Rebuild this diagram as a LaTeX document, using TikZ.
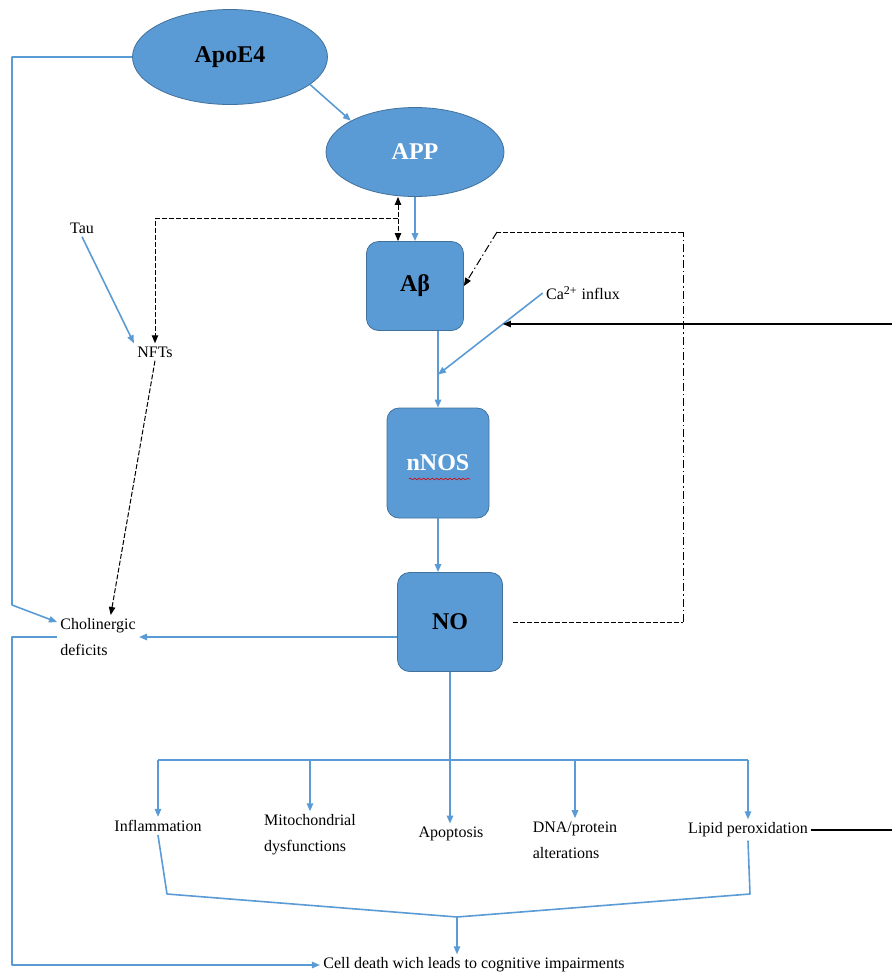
\documentclass[tikz,border=0pt]{standalone}
\usepackage{fontspec}
\setmainfont{Liberation Serif}
\usetikzlibrary{shapes.geometric,arrows.meta,decorations.pathmorphing}
\definecolor{boxblue}{RGB}{91,155,213}
\definecolor{boxline}{RGB}{65,113,156}
\begin{document}
\begin{tikzpicture}[x=0.5pt, y=-0.5pt, font=\fontsize{8}{13}\selectfont, line join=round, >={Triangle[length=4pt,width=3.2pt]},
	oval/.style={ellipse, fill=boxblue, draw=boxline, line width=.4pt, font=\fontsize{12}{14}\selectfont\bfseries},
	rbox/.style={rectangle, rounded corners=6pt, fill=boxblue, draw=boxline, line width=.4pt, font=\fontsize{12}{14}\selectfont\bfseries},
	lbl/.style={inner sep=1.5pt, align=left},
	blu/.style={draw=boxblue, line width=.8pt},
	dsh/.style={black, dash pattern=on 2.5pt off 1pt, line width=.5pt},
	dshdot/.style={black, dash pattern=on 4pt off 1.5pt on .7pt off 1.5pt, line width=.5pt}]
			%			\draw[gray,step=50] (0,0) grid (892,976);
			\useasboundingbox (0,0) rectangle (892,976);
			\path
			(892,0) coordinate (E)
			(683,232) coordinate (F1)
			(497,232) coordinate (F2)
			(12,605) coordinate (L1)
			(167,894) coordinate (b1)
			(457,917) coordinate (b2)
			(750,894) coordinate (b3)
			;
			\node[oval, minimum width=97.5pt, minimum height=47.5pt] (ApoE4) at (230,57) {ApoE4};
			\node[oval, minimum width=89pt, minimum height=44.5pt, text=white] (APP) at (415,152) {APP};
			\node[rbox, minimum width=48.5pt, minimum height=44.5pt] (Ab) at (415,286) {Aβ};
			\node[rbox, minimum width=51pt, minimum height=55pt, text=white] (nNOS) at (438,463) {nNOS};
			\node[rbox, minimum width=52.5pt, minimum height=49.5pt] (NO) at (450,622) {NO};
			
			\node[lbl] (Tau) at (82,228) {Tau};
			\node[lbl] (NFT) at (155,352) {NFTs};
			\node[lbl] (Chol) at (98,637) {Cholinergic\\deficits};
			\node[lbl] (Ca) at (583,293) {Ca\textsuperscript{2+} influx};
			\node[lbl] (Inf) at (158,826) {Inflammation};
			\node[lbl] (Mito) at (310,835) {Mitochondrial\\dysfunctions};
			\node[lbl] (Apo) at (451,834) {Apoptosis};
			\node[lbl] (DNA) at (575,840) {DNA/protein\\alterations};
			\node[lbl] (Lip) at (748,830) {Lipid peroxidation};
			\node[lbl] (Cell) at (474,965) {Cell death wich leads to cognitive impairments};
			
			\draw[red!85!black, line width=.3pt, decorate, decoration={snake, amplitude=.5pt, segment length=2.2pt}] (409,479) -- (470,479);
			
			% ApoE4 and APP
			\draw[blu,->] (ApoE4.-19) -- (APP.154);
			\draw[blu,->] (APP.south) -- (Ab.north);
			\draw[dsh,<->] ([xshift=-8.5pt]APP.south) -- ([xshift=-8.5pt]Ab.north);
			\draw[dsh,->] ([xshift=-8.5pt,yshift=-11pt]APP.south) -| (NFT.north);
			\draw[blu,->] (Tau.south) -- (NFT.north west);
			\draw[dsh,->] (NFT.south) -- (Chol.60);
			\draw[blu,->] (ApoE4.west) -| (L1) -- (Chol.160);
			\draw[blu,->] (Chol.east -| NO.west) -- (Chol.east);
			\draw[blu,->] (Chol.west) -- (Chol.west -| L1) |- (Cell.west);
			
			% Ab to NO
			\draw[blu,->] (Ab.south -| nNOS.north) -- coordinate[pos=.57] (j) (nNOS.north);
			\draw[blu,->] (Ca.west) -- coordinate[pos=.38] (k) (j);
			\draw[line width=.6pt,->] (k -| E) -- (k);
			\draw[blu,->] (nNOS.south) -- (nNOS.south |- NO.north);
			\draw[dsh] ([xshift=5pt]NO.east) -- (NO.east -| F1);
			\draw[dshdot] (NO.east -| F1) -- (F1);
			\draw[dsh] (F1) -- (F2);
			\draw[dshdot,->] (F2) -- (Ab.east);
			
			% effects of NO
			\path (NO.south) ++(0,88) coordinate (B);
			\draw[blu,->] (NO.south) -- (NO.south |- Apo.north);
			\draw[blu] (Inf |- B) -- (Lip |- B);
			\foreach \n in {Inf,Mito,DNA,Lip}
			\draw[blu,->] (\n |- B) -- (\n.north);
			\draw[blu] (Inf.south) -- (b1) -- (b2) -- (b3) -- (Lip.south);
			\draw[blu,->] (b2) -- (b2 |- Cell.north);
			\draw[line width=.6pt] (Lip.east) -- (Lip.east -| E);
		\end{tikzpicture}
\end{document}
